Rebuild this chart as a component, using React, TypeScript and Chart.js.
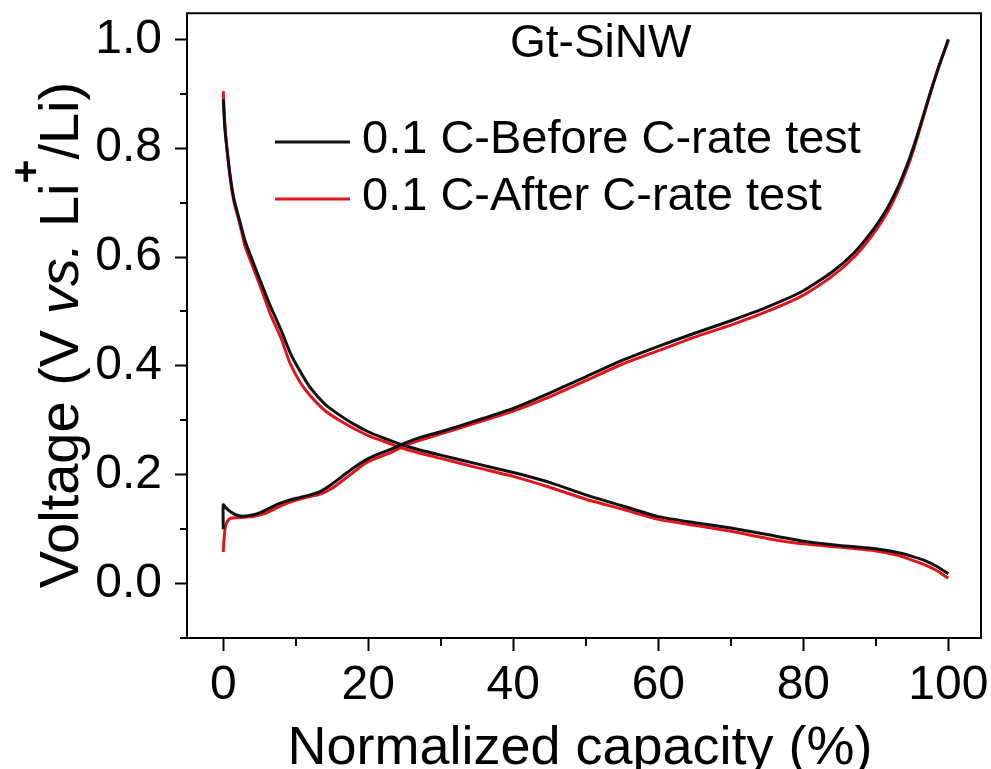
import { useEffect, useRef } from 'react';
import { Chart, registerables } from 'chart.js';

Chart.register(...registerables);

// ---------- data ----------
const beforeDischargeX = [0, 0.2, 0.5, 1, 1.5, 2.3, 3, 3.7, 5, 6.5, 8, 9.2, 10.6, 12, 14, 16, 18, 20, 22, 24.4, 27, 30, 35, 40, 45, 50, 55, 60, 65, 70, 75, 80, 85, 90, 93, 95, 97, 98.5, 99.5, 100];
const beforeDischargeV = [0.89, 0.84, 0.8, 0.745, 0.705, 0.665, 0.63, 0.605, 0.56, 0.51, 0.465, 0.425, 0.39, 0.36, 0.33, 0.31, 0.293, 0.279, 0.268, 0.256, 0.246, 0.236, 0.22, 0.204, 0.186, 0.163, 0.143, 0.123, 0.112, 0.102, 0.09, 0.078, 0.07, 0.064, 0.057, 0.05, 0.041, 0.031, 0.022, 0.018];

const afterDischargeX = [0, 0.2, 0.5, 1, 1.5, 2.3, 3, 3.7, 5, 6.5, 8, 9.2, 10.6, 12, 14, 16, 18, 20, 22, 24.4, 27, 30, 35, 40, 45, 50, 55, 60, 65, 70, 75, 80, 85, 90, 93, 95, 97, 98.5, 99.5, 100];
const afterDischargeV = [0.905, 0.85, 0.8, 0.74, 0.7, 0.66, 0.62, 0.595, 0.55, 0.495, 0.45, 0.405, 0.37, 0.345, 0.318, 0.3, 0.285, 0.272, 0.262, 0.25, 0.24, 0.23, 0.213, 0.197, 0.177, 0.155, 0.137, 0.118, 0.107, 0.096, 0.083, 0.073, 0.067, 0.06, 0.052, 0.043, 0.033, 0.023, 0.014, 0.01];

const beforeChargeX = [0, 0, 0.3, 1, 2, 3, 4, 5, 6, 7.5, 9, 10.5, 12, 13.5, 15, 16.5, 18, 19.5, 21, 23, 25, 27.5, 30, 35, 40, 45, 50, 55, 60, 65, 70, 75, 80, 84, 87, 89.5, 91.5, 93, 94.5, 95.5, 96.5, 97.5, 98.7, 100];
const beforeChargeV = [0.1, 0.145, 0.14, 0.132, 0.125, 0.124, 0.126, 0.13, 0.136, 0.146, 0.153, 0.158, 0.163, 0.17, 0.183, 0.198, 0.213, 0.226, 0.236, 0.246, 0.258, 0.27, 0.279, 0.3, 0.322, 0.35, 0.38, 0.41, 0.436, 0.46, 0.483, 0.508, 0.538, 0.573, 0.608, 0.648, 0.688, 0.727, 0.776, 0.815, 0.858, 0.902, 0.951, 1.0];

const afterChargeX = [0, 0.1, 0.3, 0.6, 1, 2, 3, 4, 5, 6, 7.5, 9, 10.5, 12, 13.5, 15, 16.5, 18, 19.5, 21, 23, 25, 27.5, 30, 35, 40, 45, 50, 55, 60, 65, 70, 75, 80, 84, 87, 89.5, 91.5, 93, 94.5, 95.5, 96.5, 97.5, 98.7, 100];
const afterChargeV = [0.058, 0.08, 0.105, 0.115, 0.12, 0.121, 0.122, 0.123, 0.126, 0.13, 0.14, 0.149, 0.155, 0.16, 0.165, 0.175, 0.19, 0.205, 0.22, 0.23, 0.24, 0.253, 0.265, 0.275, 0.296, 0.317, 0.343, 0.373, 0.403, 0.428, 0.453, 0.475, 0.5, 0.53, 0.565, 0.6, 0.64, 0.68, 0.72, 0.77, 0.81, 0.855, 0.9, 0.95, 0.998];

const xMajorTicks = [0, 20, 40, 60, 80, 100];
const xMinorTicks = [10, 30, 50, 70, 90];
const yMajorTicks = [0, 0.2, 0.4, 0.6, 0.8, 1.0];
const yMinorTicks = [-0.1, 0.1, 0.3, 0.5, 0.7, 0.9];

const seriesLabels = ['0.1 C-Before C-rate test', '0.1 C-After C-rate test'];
const sampleName = 'Gt-SiNW';
const xTitle = 'Normalized capacity (%)';

const BLACK = '#111111';
const RED = '#e3141c';
const FONT = '"Liberation Sans", Arial, Helvetica, sans-serif';

function pts(xs: number[], ys: number[]) {
  return xs.map((x, i) => ({ x, y: ys[i] }));
}

export default function App() {
  const ref = useRef<HTMLCanvasElement | null>(null);

  useEffect(() => {
    const canvas = ref.current;
    if (!canvas) return;

    const overlay = {
      id: 'overlay',
      afterDraw(chart: any) {
        const ctx = chart.ctx as CanvasRenderingContext2D;
        const area = chart.chartArea;
        const xs = chart.scales.x;
        const ys = chart.scales.y;
        ctx.save();
        // frame
        ctx.strokeStyle = '#000';
        ctx.lineWidth = 2;
        ctx.strokeRect(area.left, area.top, area.right - area.left, area.bottom - area.top);
        // minor ticks
        ctx.beginPath();
        xMinorTicks.forEach((v) => {
          const p = Math.round(xs.getPixelForValue(v));
          ctx.moveTo(p, area.bottom);
          ctx.lineTo(p, area.bottom + 8);
        });
        yMinorTicks.forEach((v) => {
          const p = Math.round(ys.getPixelForValue(v));
          ctx.moveTo(area.left - 7, p);
          ctx.lineTo(area.left, p);
        });
        ctx.stroke();

        // x title
        ctx.fillStyle = '#000';
        ctx.font = `54px ${FONT}`;
        ctx.textAlign = 'center';
        ctx.textBaseline = 'alphabetic';
        ctx.fillText(xTitle, 580, 764);

        // y title with mixed styles
        const normal = `56px ${FONT}`;
        const parts = [
          { t: 'Voltage (V ', f: normal, dy: 0 },
          { t: 'vs.', f: `italic 56px ${FONT}`, dy: 0 },
          { t: ' Li', f: normal, dy: 0 },
          { t: '+', f: `bold 41px ${FONT}`, dy: -39 },
          { t: '/Li)', f: normal, dy: 0 },
        ];
        let total = 0;
        parts.forEach((p) => {
          ctx.font = p.f;
          total += ctx.measureText(p.t).width;
        });
        ctx.save();
        ctx.translate(78, 335);
        ctx.rotate(-Math.PI / 2);
        ctx.textAlign = 'left';
        let cx = -total / 2;
        parts.forEach((p) => {
          ctx.font = p.f;
          ctx.fillText(p.t, cx, p.dy);
          cx += ctx.measureText(p.t).width;
        });
        ctx.restore();

        // sample name
        ctx.textAlign = 'left';
        ctx.font = `46px ${FONT}`;
        ctx.fillText(sampleName, 510, 57);

        // legend
        const rows = [
          { label: seriesLabels[0], color: BLACK, y: 142, base: 153 },
          { label: seriesLabels[1], color: RED, y: 199, base: 210 },
        ];
        rows.forEach((r) => {
          ctx.strokeStyle = r.color;
          ctx.lineWidth = 3;
          ctx.beginPath();
          ctx.moveTo(275, r.y);
          ctx.lineTo(350, r.y);
          ctx.stroke();
          ctx.fillStyle = '#000';
          ctx.font = `47px ${FONT}`;
          ctx.fillText(r.label, 362, r.base);
        });
        ctx.restore();
      },
    };

    const lineDs = (data: any[], color: string) => ({
      data,
      showLine: true,
      borderColor: color,
      backgroundColor: color,
      borderWidth: 3,
      pointRadius: 0,
      tension: 0.2,
      fill: false,
    });

    const chart = new Chart(canvas, {
      type: 'scatter',
      data: {
        datasets: [
          lineDs(pts(beforeDischargeX, beforeDischargeV), BLACK),
          lineDs(pts(beforeChargeX, beforeChargeV), BLACK),
          lineDs(pts(afterDischargeX, afterDischargeV), RED),
          lineDs(pts(afterChargeX, afterChargeV), RED),
        ],
      },
      options: {
        responsive: false,
        animation: false,
        devicePixelRatio: 1,
        layout: { padding: { left: 0, top: 13, right: 10, bottom: 0 } },
        plugins: { legend: { display: false }, tooltip: { enabled: false } },
        scales: {
          x: {
            type: 'linear',
            min: -5,
            max: 104.5,
            afterBuildTicks: (a: any) => {
              a.ticks = xMajorTicks.map((v) => ({ value: v }));
            },
            afterFit: (a: any) => {
              a.height = 131;
            },
            grid: { drawOnChartArea: false, drawTicks: true, tickLength: 13, tickWidth: 2, tickColor: '#000' },
            border: { display: false },
            ticks: {
              color: '#000',
              font: { family: FONT, size: 48, lineHeight: 1.45 },
              padding: 0,
              maxRotation: 0,
              autoSkip: false,
              callback: (v: any) => String(v),
            },
          },
          y: {
            type: 'linear',
            min: -0.1,
            max: 1.048,
            afterBuildTicks: (a: any) => {
              a.ticks = yMajorTicks.map((v) => ({ value: v }));
            },
            afterFit: (a: any) => {
              a.width = 187;
            },
            grid: { drawOnChartArea: false, drawTicks: true, tickLength: 12, tickWidth: 2, tickColor: '#000' },
            border: { display: false },
            ticks: {
              color: '#000',
              font: { family: FONT, size: 48, lineHeight: 0.01 },
              padding: 13,
              autoSkip: false,
              callback: (v: any) => Number(v).toFixed(1),
            },
          },
        },
      },
      plugins: [overlay],
    } as any);

    return () => chart.destroy();
  }, []);

  return (
    <div style={{ position: 'absolute', left: 0, top: 0, width: 991, height: 769, background: '#fff' }}>
      <canvas ref={ref} width={991} height={769} style={{ display: 'block', width: 991, height: 769 }} />
    </div>
  );
}
